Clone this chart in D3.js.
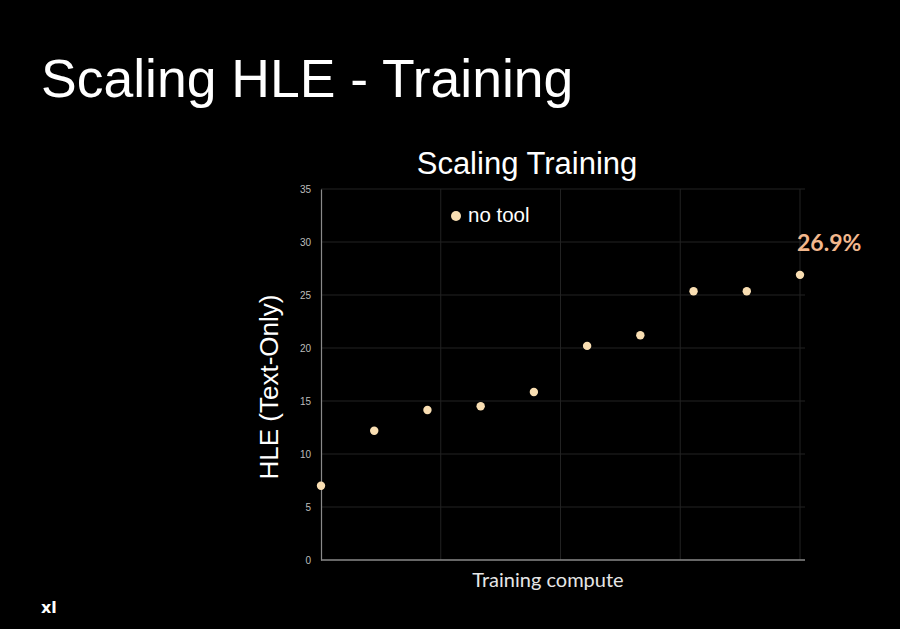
<!DOCTYPE html>
<html><head><meta charset="utf-8">
<script src="https://cdn.jsdelivr.net/npm/d3@7"></script>
<style>
html,body{margin:0;padding:0;background:#000;}
svg{display:block;}
</style></head>
<body>
<svg id="c" width="900" height="629"></svg>
<script>
const runs = [1,2,3,4,5,6,7,8,9,10];
const hleNoTool = [7.0, 12.2, 14.15, 14.5, 15.85, 20.2, 21.2, 25.35, 25.35, 26.9];
const yTicks = [0,5,10,15,20,25,30,35];
const xGrid = [1, 3.25, 5.5, 7.75, 10];
const seriesName = "no tool";
const finalLabel = "26.9%";

const svg = d3.select("#c");
const W = 900, H = 629;
svg.append("rect").attr("width",W).attr("height",H).attr("fill","#000");

const x = d3.scaleLinear().domain([1,10]).range([321,800]);
const y = d3.scaleLinear().domain([0,35]).range([560,189]);

// slide title
svg.append("text").attr("x",41).attr("y",97)
  .attr("font-family","Liberation Sans, Arial, sans-serif").attr("font-size",53.5)
  .attr("fill","#fff").text("Scaling HLE - Training");

// chart title
svg.append("text").attr("x",527).attr("y",174).attr("text-anchor","middle")
  .attr("font-family","Liberation Sans, Arial, sans-serif").attr("font-size",31)
  .attr("fill","#fff").text("Scaling Training");

// gridlines
const g = svg.append("g");
g.selectAll(".hg").data(yTicks.filter(d=>d>0)).enter().append("line")
  .attr("x1",321).attr("x2",805).attr("y1",d=>y(d)).attr("y2",d=>y(d))
  .attr("stroke","#222").attr("stroke-width",1);
g.selectAll(".vg").data(xGrid.slice(1)).enter().append("line")
  .attr("x1",d=>x(d)).attr("x2",d=>x(d)).attr("y1",y(35)).attr("y2",y(0))
  .attr("stroke","#222").attr("stroke-width",1);

// axes
const yAxis = d3.axisLeft(y).tickValues(yTicks).tickSize(0).tickPadding(10);
const ya = svg.append("g").attr("transform","translate(321,0)").call(yAxis);
ya.select(".domain").attr("stroke","#8a8a8a").attr("stroke-width",1.2);
ya.selectAll("text").attr("fill","#bdbdbd").attr("font-size",10)
  .attr("font-family","Liberation Sans, Arial, sans-serif");

svg.append("line").attr("x1",321).attr("x2",805).attr("y1",y(0)).attr("y2",y(0))
  .attr("stroke","#8a8a8a").attr("stroke-width",1.5);

// axis titles
svg.append("text").attr("transform","translate(278,387) rotate(-90)")
  .attr("text-anchor","middle")
  .attr("font-family","Liberation Sans, Arial, sans-serif").attr("font-size",26)
  .attr("fill","#fff").text("HLE (Text-Only)");
svg.append("text").attr("x",548).attr("y",587).attr("text-anchor","middle")
  .attr("font-family","Lato, 'Noto Sans', sans-serif").attr("font-size",20)
  .attr("fill","#e6e6e6").text("Training compute");

// points
svg.selectAll(".pt").data(runs).enter().append("circle")
  .attr("cx",d=>x(d)).attr("cy",(d,i)=>y(hleNoTool[i])).attr("r",4.2)
  .attr("fill","#f9deb2");

// final label
svg.append("text").attr("x",x(10)-3).attr("y",251)
  .attr("font-family","Lato, 'Noto Sans', sans-serif").attr("font-weight","bold").attr("font-size",23)
  .attr("fill","#f3b88d").text(finalLabel);

// legend
svg.append("circle").attr("cx",456).attr("cy",216).attr("r",5).attr("fill","#f9deb2");
svg.append("text").attr("x",468).attr("y",222)
  .attr("font-family","Liberation Sans, Arial, sans-serif").attr("font-size",20.5)
  .attr("fill","#fff").text(seriesName);

// logo
svg.append("text").attr("x",41).attr("y",613)
  .attr("font-family","DejaVu Sans, sans-serif").attr("font-weight","bold").attr("font-size",16)
  .attr("fill","#fff").text("xl");
</script>
</body></html>
